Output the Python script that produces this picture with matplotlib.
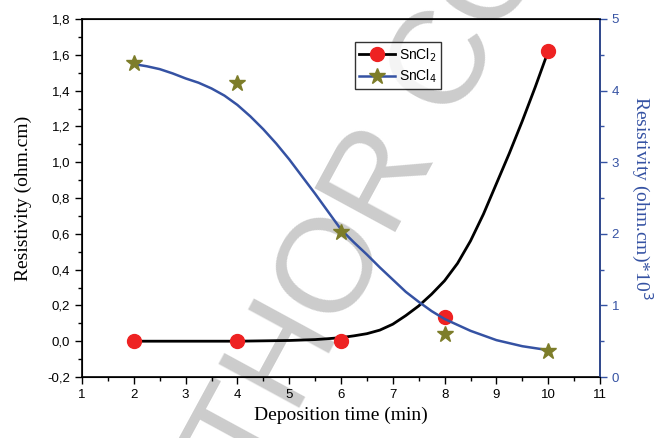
import numpy as np
import matplotlib.pyplot as plt
from matplotlib.ticker import MultipleLocator

# measured points
t = [2, 4, 6, 8, 10]
sncl2 = [0.0, 0.0, 0.0, 0.137, 1.62]
sncl4 = [4.38, 4.11, 2.02, 0.60, 0.37]

# fit curves
t_fit2 = [2, 3, 4, 4.5, 5, 5.5, 5.75, 6, 6.25, 6.5, 6.75, 7, 7.25, 7.5, 7.75, 8,
          8.25, 8.5, 8.75, 9, 9.25, 9.5, 9.75, 10]
sncl2_fit = [0.0, 0.0, 0.0, 0.002, 0.004, 0.009, 0.014, 0.02, 0.03, 0.042, 0.062, 0.095,
             0.143, 0.197, 0.263, 0.338, 0.435, 0.56, 0.71, 0.88, 1.05, 1.23, 1.42, 1.62]
t_fit4 = [2, 2.25, 2.5, 2.75, 3, 3.25, 3.5, 3.75, 4, 4.25, 4.5, 4.75, 5, 5.25, 5.5,
          5.75, 6, 6.25, 6.5, 6.75, 7, 7.25, 7.5, 7.75, 8, 8.5, 9, 9.5, 10]
sncl4_fit = [4.37, 4.34, 4.30, 4.24, 4.17, 4.11, 4.03, 3.93, 3.80, 3.64, 3.46, 3.26,
             3.04, 2.80, 2.56, 2.31, 2.06, 1.88, 1.71, 1.53, 1.36, 1.19, 1.05, 0.92,
             0.81, 0.645, 0.515, 0.43, 0.375]

left_ticks = [-0.2, 0.0, 0.2, 0.4, 0.6, 0.8, 1.0, 1.2, 1.4, 1.6, 1.8]
left_labels = ['-0,2', '0,0', '0,2', '0,4', '0,6', '0,8', '1,0', '1,2', '1,4', '1,6', '1,8']
right_ticks = [0, 1, 2, 3, 4, 5]
x_ticks = list(range(1, 12))

blue = '#3552a3'
sans = 'Liberation Sans'
serif = 'Liberation Serif'

fig = plt.figure(figsize=(6.58, 4.38), dpi=100)
ax = fig.add_axes([82/658, 1 - 377/438, 518/658, 358/438])
ax.set_facecolor('none')

# watermark
fig.text(0.564, 0.532, 'AUTHOR COPY', rotation=61.5, fontsize=96, color='#cccccc',
         family=sans, ha='center', va='center', zorder=-5)

ax.plot(t_fit2, sncl2_fit, color='black', lw=2, zorder=3)
ax.plot(t, sncl2, 'o', color='#ee2222', ms=10, zorder=4)
ax.set_xlim(1, 11)
ax.set_ylim(-0.2, 1.8)
ax.set_yticks(left_ticks)
ax.set_yticklabels(left_labels)
ax.yaxis.set_minor_locator(MultipleLocator(0.1))
ax.set_xticks(x_ticks)
ax.xaxis.set_minor_locator(MultipleLocator(0.5))
ax.tick_params(which='major', direction='out', length=5, width=1, labelsize=9.5)
ax.tick_params(which='minor', direction='out', length=3, width=1)
for lab in ax.get_xticklabels() + ax.get_yticklabels():
    lab.set_family(sans)
ax.set_xlabel('Deposition time (min)', family=serif, fontsize=14)
ax.set_ylabel('Resistivity (ohm.cm)', family=serif, fontsize=14, labelpad=11)
for s in ax.spines.values():
    s.set_linewidth(1.2)

ax2 = ax.twinx()
ax2.plot(t_fit4, sncl4_fit, color=blue, lw=1.8, zorder=3)
ax2.plot(t, sncl4, '*', color='#7d7d2a', ms=12, zorder=4)
ax2.set_ylim(0, 5)
ax2.set_yticks(right_ticks)
ax2.yaxis.set_minor_locator(MultipleLocator(0.5))
ax2.tick_params(which='major', direction='out', length=5, width=1, colors=blue, labelsize=9.5)
ax2.tick_params(which='minor', direction='out', length=3, width=1, colors=blue)
for lab in ax2.get_yticklabels():
    lab.set_family(sans)
ax2.spines['right'].set_color(blue)
ax2.spines['right'].set_linewidth(1.2)
ax2.set_ylabel('Resistivity (ohm.cm)*10$^3$', family=serif, fontsize=14, color=blue,
               rotation=270, labelpad=25)

h1 = plt.Line2D([], [], color='black', lw=2, marker='o', mfc='#ee2222', mec='#ee2222', ms=10)
h2 = plt.Line2D([], [], color=blue, lw=1.8, marker='*', mfc='#7d7d2a', mec='#7d7d2a', ms=12)
leg = ax2.legend([h1, h2], ['SnCl$_2$', 'SnCl$_4$'], loc='upper left',
                 bbox_to_anchor=(0.513, 0.955), frameon=True, fancybox=False,
                 edgecolor='black', prop={'family': sans, 'size': 10},
                 handlelength=2.6, borderpad=0.3, labelspacing=0.3, handletextpad=0.3)
leg.get_frame().set_linewidth(1)

fig.savefig('out.png', dpi=100)
